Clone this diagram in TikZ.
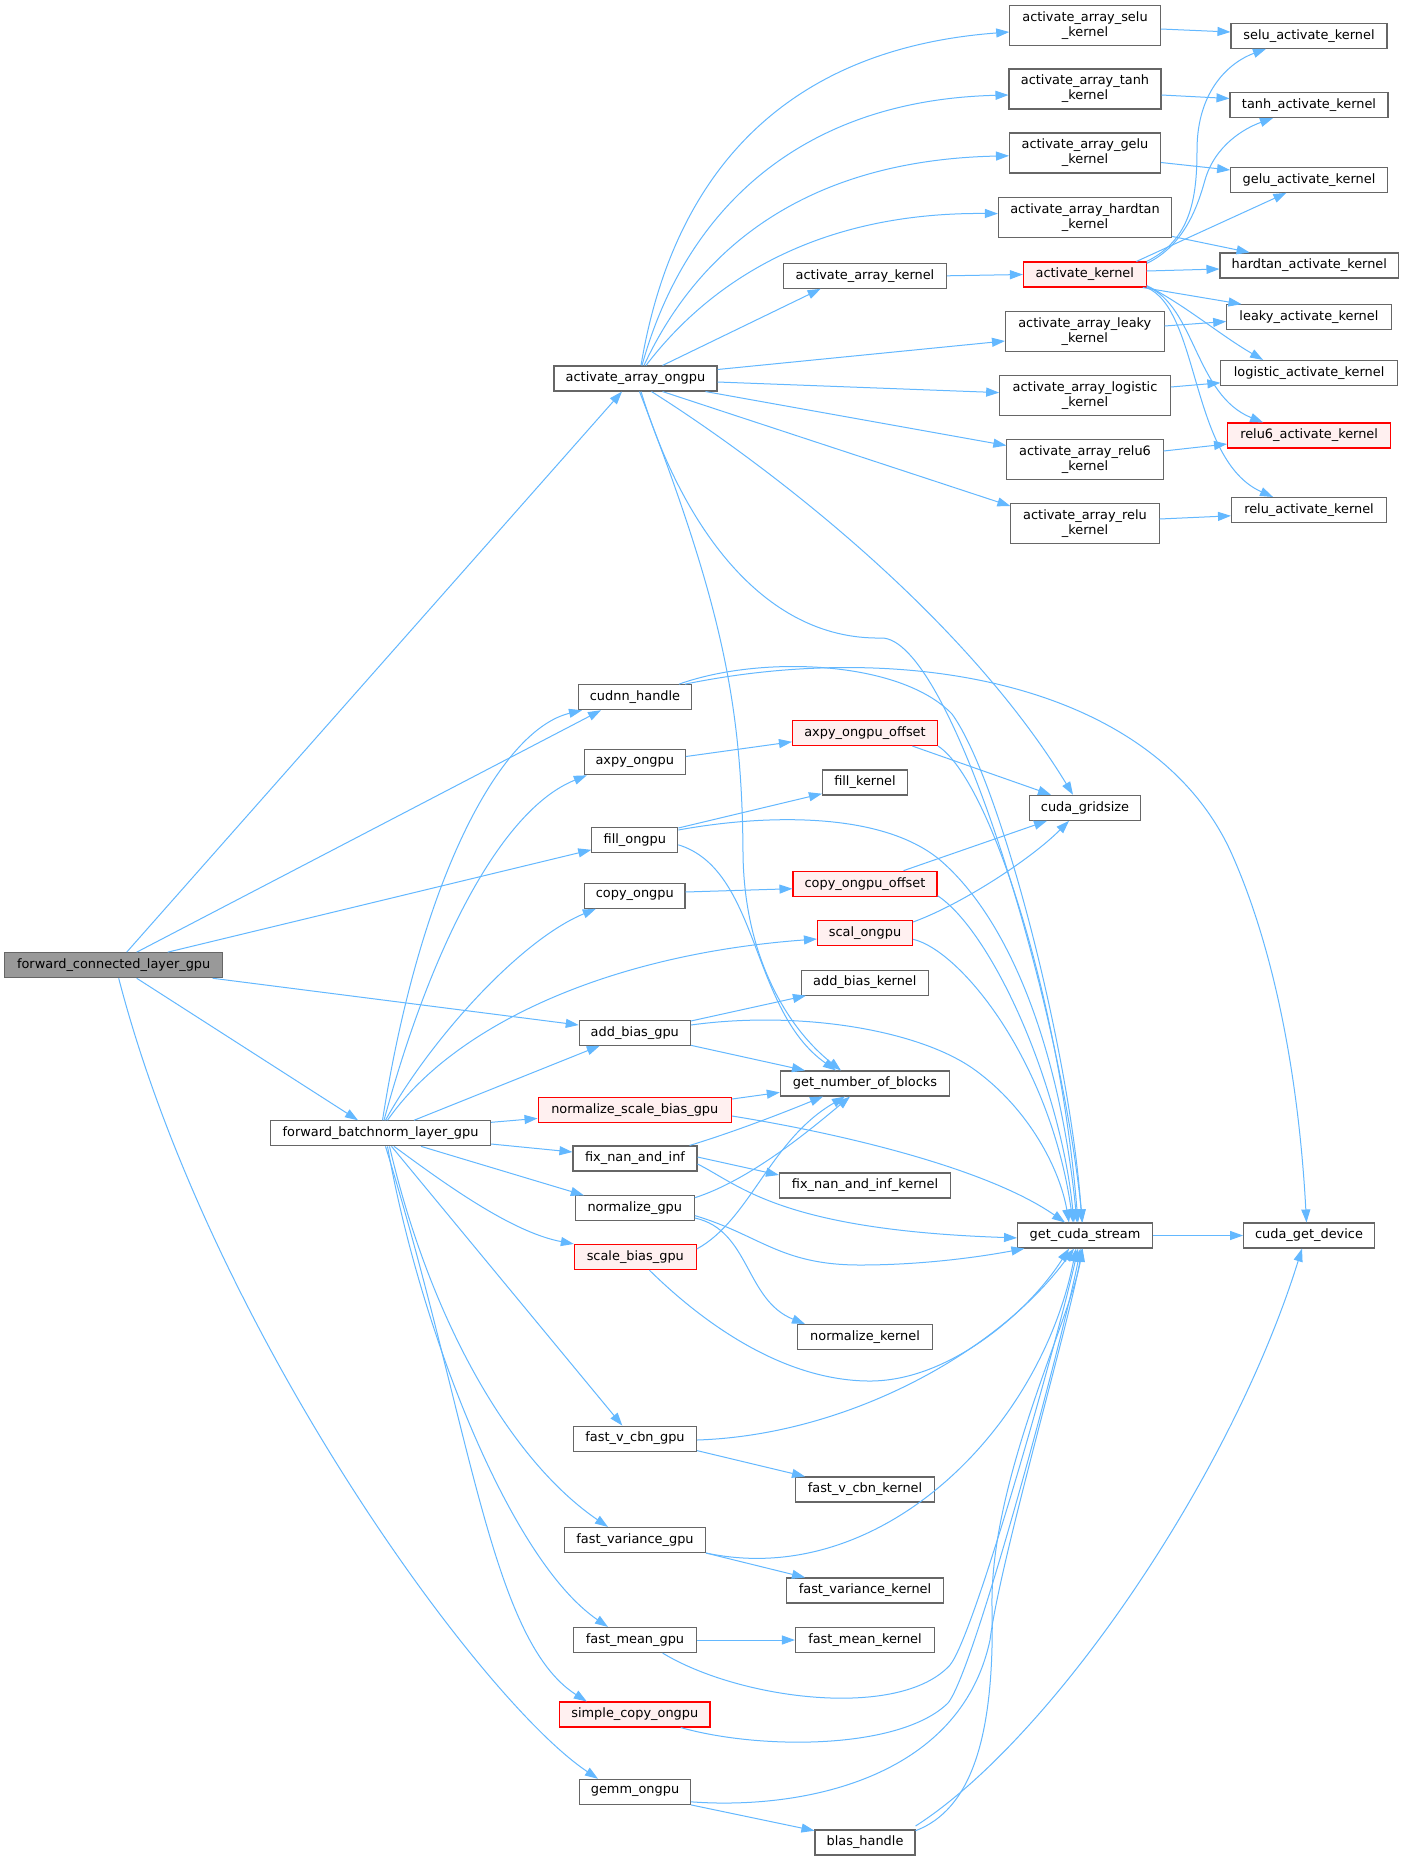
\documentclass[tikz,border=0pt]{standalone}
\usepackage{fontspec}
\setmainfont{DejaVu Sans}
\usetikzlibrary{arrows.meta}
\definecolor{edgec}{HTML}{63B8FF}
\definecolor{nodeb}{HTML}{666666}
\definecolor{rootf}{HTML}{999999}
\definecolor{redf}{HTML}{FFF0F0}
\begin{document}
\begin{tikzpicture}[x=1pt,y=-1pt,
  font=\fontsize{12.9}{14.8}\selectfont,
  box/.style={draw=nodeb, line width=1.1pt, fill=white, inner sep=0pt, minimum height=25pt, align=center},
  dbox/.style={box, minimum height=40pt},
  rbox/.style={box, draw=red, fill=redf},
  gbox/.style={box, fill=rootf},
  edg/.style={draw=edgec, line width=1pt, -{Triangle[length=13pt,width=9pt]}}]
\useasboundingbox[fill=white] (0,0) rectangle (1404,1861);

% ---- nodes ----
\node[gbox, minimum width=217.6pt] (fc) at (113.7,965.2) {forward\_connected\_layer\_gpu};
\node[box, minimum width=220.3pt] (fb) at (380.5,1133.3) {forward\_batchnorm\_layer\_gpu};

\node[box, minimum width=163pt] (aao) at (635.5,378.5) {activate\_array\_ongpu};
\node[box, minimum width=112.3pt] (cudnn) at (635,697.2) {cudnn\_handle};
\node[box, minimum width=101.2pt] (axpy) at (634.8,762.3) {axpy\_ongpu};
\node[box, minimum width=86pt] (fill) at (634.8,839.8) {fill\_ongpu};
\node[box, minimum width=100.3pt] (copy) at (634.8,895.8) {copy\_ongpu};
\node[box, minimum width=111pt] (addb) at (634.8,1032.7) {add\_bias\_gpu};
\node[rbox, minimum width=193.4pt] (nsb) at (634.8,1109.8) {normalize\_scale\_bias\_gpu};
\node[box, minimum width=124pt] (fixn) at (635,1158.5) {fix\_nan\_and\_inf};
\node[box, minimum width=119pt] (normg) at (634.8,1208.3) {normalize\_gpu};
\node[rbox, minimum width=121.8pt] (sbg) at (635.3,1257) {scale\_bias\_gpu};
\node[box, minimum width=123pt] (fvc) at (635,1438.6) {fast\_v\_cbn\_gpu};
\node[box, minimum width=141pt] (fvar) at (635,1540) {fast\_variance\_gpu};
\node[box, minimum width=123pt] (fmean) at (635,1640) {fast\_mean\_gpu};
\node[rbox, minimum width=150.4pt] (scopy) at (634.8,1714.5) {simple\_copy\_ongpu};
\node[box, minimum width=110.6pt] (gemm) at (635,1791.8) {gemm\_ongpu};

\node[box, minimum width=163pt] (aak) at (865,275.8) {activate\_array\_kernel};
\node[rbox, minimum width=145pt] (axpyo) at (865,733) {axpy\_ongpu\_offset};
\node[box, minimum width=85pt] (fillk) at (865,782.5) {fill\_kernel};
\node[rbox, minimum width=144pt] (copyo) at (865,883.7) {copy\_ongpu\_offset};
\node[rbox, minimum width=95pt] (scal) at (865,933) {scal\_ongpu};
\node[box, minimum width=126.7pt] (addbk) at (864.8,982.6) {add\_bias\_kernel};
\node[box, minimum width=169.3pt] (gnb) at (865,1083.5) {get\_number\_of\_blocks};
\node[box, minimum width=171pt] (fixk) at (865,1185.5) {fix\_nan\_and\_inf\_kernel};
\node[box, minimum width=134.8pt] (normk) at (865,1337) {normalize\_kernel};
\node[box, minimum width=139pt] (fvck) at (865,1489.5) {fast\_v\_cbn\_kernel};
\node[box, minimum width=157pt] (fvark) at (865,1590.5) {fast\_variance\_kernel};
\node[box, minimum width=139pt] (fmeank) at (865,1640) {fast\_mean\_kernel};
\node[box, minimum width=100pt] (blas) at (865,1842.5) {blas\_handle};

\node[dbox, minimum width=150.5pt] (selk) at (1085,25.3) {activate\_array\_selu\\\_kernel};
\node[dbox, minimum width=152pt] (tank) at (1085,89) {activate\_array\_tanh\\\_kernel};
\node[dbox, minimum width=151pt] (gelk) at (1085,153) {activate\_array\_gelu\\\_kernel};
\node[dbox, minimum width=173pt] (hardk) at (1085,217.4) {activate\_array\_hardtan\\\_kernel};
\node[rbox, minimum width=122.7pt] (ak) at (1084.8,274.5) {activate\_kernel};
\node[dbox, minimum width=158.5pt] (leakk) at (1084.8,331.7) {activate\_array\_leaky\\\_kernel};
\node[dbox, minimum width=170.6pt] (logik) at (1085,395.8) {activate\_array\_logistic\\\_kernel};
\node[dbox, minimum width=156.2pt] (relu6k) at (1085,459.8) {activate\_array\_relu6\\\_kernel};
\node[dbox, minimum width=148.2pt] (reluk) at (1085,523.8) {activate\_array\_relu\\\_kernel};
\node[box, minimum width=110.6pt] (grid) at (1085,807.8) {cuda\_gridsize};
\node[box, minimum width=134.8pt] (gcs) at (1085,1235.5) {get\_cuda\_stream};

\node[box, minimum width=156pt] (selu) at (1309,35.8) {selu\_activate\_kernel};
\node[box, minimum width=158pt] (tanh) at (1309,105) {tanh\_activate\_kernel};
\node[box, minimum width=156.7pt] (gelu) at (1309,179.8) {gelu\_activate\_kernel};
\node[box, minimum width=178.6pt] (hard) at (1309.3,265.5) {hardtan\_activate\_kernel};
\node[box, minimum width=164.3pt] (leaky) at (1308.9,317.2) {leaky\_activate\_kernel};
\node[box, minimum width=176.4pt] (logi) at (1309.1,373) {logistic\_activate\_kernel};
\node[rbox, minimum width=163pt] (relu6) at (1309.1,435.5) {relu6\_activate\_kernel};
\node[box, minimum width=155pt] (relu) at (1309,510) {relu\_activate\_kernel};
\node[box, minimum width=130.7pt] (cgd) at (1309,1235.5) {cuda\_get\_device};

% ---- edges from forward_connected_layer_gpu ----
\draw[edg] ([xshift=13pt]fc.north) -- ([xshift=-13.5pt]aao.south);
\draw[edg] ([xshift=23pt]fc.north) -- ([xshift=-34pt]cudnn.south);
\draw[edg] ([xshift=54pt]fc.north) -- ([yshift=-10pt]fill.west);
\draw[edg] ([xshift=99pt]fc.south) -- ([yshift=7.7pt]addb.west);
\draw[edg] ([xshift=23pt]fc.south) -- ([xshift=-22.5pt]fb.north);
\draw[edg] ([xshift=5pt]fc.south) .. controls (210,1330) and (480,1700) .. ([xshift=-37pt]gemm.north);

% ---- edges from activate_array_ongpu ----
\draw[edg] ([xshift=5.5pt]aao.north) .. controls (670,190) and (770,50) .. ([yshift=-6.7pt]selk.west);
\draw[edg] ([xshift=6.5pt]aao.north) .. controls (685,210) and (800,100) .. ([yshift=-6pt]tank.west);
\draw[edg] ([xshift=8.5pt]aao.north) .. controls (700,245) and (810,160) .. ([yshift=-2.8pt]gelk.west);
\draw[edg] ([xshift=10.5pt]aao.north) .. controls (715,275) and (825,212) .. ([yshift=3.8pt]hardk.west);
\draw[edg] ([xshift=27pt]aao.north) -- ([xshift=-44.4pt]aak.south);
\draw[edg] ([yshift=9pt]aao.east) -- ([yshift=-9.3pt]leakk.west);
\draw[edg] ([yshift=-3.5pt]aao.east) -- ([yshift=3.2pt]logik.west);
\draw[edg] ([xshift=70pt]aao.south) -- ([yshift=14.3pt]relu6k.west);
\draw[edg] ([xshift=27pt]aao.south) -- ([yshift=17.8pt]reluk.west);
\draw[edg] ([xshift=16pt]aao.south) .. controls (760,460) and (960,610) .. ([xshift=-12pt]grid.north);
\draw[edg] ([xshift=5.5pt]aao.south) .. controls (680,520) and (760,640) .. (881,638) .. controls (950,636) and (1060,1000) .. ([xshift=-2.5pt]gcs.north);
\draw[edg] ([xshift=4pt]aao.south) .. controls (720,600) and (742,700) .. (743,853) .. controls (744,960) and (790,1030) .. ([xshift=-24pt]gnb.north);

% ---- kernel wrappers ----
\draw[edg] ([yshift=-3.7pt]selk.east) -- ([yshift=3.8pt]selu.west);
\draw[edg] ([yshift=-6pt]tank.east) -- ([yshift=6.5pt]tanh.west);
\draw[edg] ([yshift=-9.5pt]gelk.east) -- ([yshift=9.8pt]gelu.west);
\draw[edg] ([yshift=-19pt]hardk.east) -- ([xshift=-59.7pt]hard.north);
\draw[edg] ([yshift=5.7pt]leakk.east) -- ([yshift=-4.3pt]leaky.west);
\draw[edg] ([yshift=8.8pt]logik.east) -- ([yshift=-9.8pt]logi.west);
\draw[edg] ([yshift=8.8pt]relu6k.east) -- ([yshift=-8.5pt]relu6.west);
\draw[edg] ([yshift=4.8pt]reluk.east) -- ([yshift=-5.8pt]relu.west);
\draw[edg] (aak.east) -- (ak.west);

% ---- activate_kernel ----
\draw[edg] (ak.north east) .. controls (1190,240) and (1197,200) .. (1197,150) .. controls (1197,90) and (1230,62) .. ([xshift=-43pt]selu.south);
\draw[edg] ([yshift=-2pt]ak.north east) .. controls (1185,245) and (1198,205) .. (1205,180) .. controls (1215,145) and (1245,128) .. ([xshift=-36pt]tanh.south);
\draw[edg] ([xshift=51.6pt]ak.north) -- ([xshift=-22.6pt]gelu.south);
\draw[edg] ([yshift=3.5pt]ak.east) -- ([yshift=-3.5pt]hard.west);
\draw[edg] ([xshift=58pt]ak.south) -- ([xshift=-67.4pt]leaky.north);
\draw[edg] ([yshift=2pt]ak.south east) .. controls (1185,305) and (1220,335) .. ([xshift=-46pt]logi.north);
\draw[edg] ([yshift=1pt]ak.south east) .. controls (1195,305) and (1195,395) .. ([xshift=-46pt]relu6.north);
\draw[edg] (ak.south east) .. controls (1200,310) and (1190,460) .. ([xshift=-36pt]relu.north);

% ---- forward_batchnorm_layer_gpu ----
\draw[edg] ([xshift=2pt]fb.north) .. controls (420,880) and (500,730) .. ([xshift=-53pt]cudnn.south);
\draw[edg] ([xshift=3.5pt]fb.north) .. controls (430,950) and (500,810) .. ([xshift=-48pt]axpy.south);
\draw[edg] ([xshift=5pt]fb.north) .. controls (430,1040) and (520,940) .. ([xshift=-39pt]copy.south);
\draw[edg] ([xshift=7pt]fb.north) .. controls (450,1030) and (600,955) .. ([yshift=-6pt]scal.west);
\draw[edg] ([xshift=33.5pt]fb.north) -- ([xshift=-35pt]addb.south);
\draw[edg] ([yshift=11pt]fb.east) -- ([yshift=-8.6pt]nsb.west);
\draw[edg] ([yshift=-10.7pt]fb.east) -- ([yshift=6.5pt]fixn.west);
\draw[edg] ([xshift=40.5pt]fb.south) -- ([xshift=-51pt]normg.north);
\draw[edg] ([xshift=13.5pt]fb.south) .. controls (440,1180) and (510,1232) .. (sbg.north west);
\draw[edg] ([xshift=11pt]fb.south) -- ([xshift=-12.7pt]fvc.north);
\draw[edg] ([xshift=9pt]fb.south) .. controls (430,1320) and (510,1460) .. ([xshift=-27pt]fvar.north);
\draw[edg] ([xshift=7pt]fb.south) .. controls (420,1330) and (510,1560) .. ([xshift=-27pt]fmean.north);
\draw[edg] ([xshift=5pt]fb.south) .. controls (470,1420) and (490,1640) .. ([xshift=-48pt]scopy.north);

% ---- middle column ----
\draw[edg] ([xshift=44pt]cudnn.north) .. controls (760,655) and (900,660) .. (952,714) .. controls (1000,780) and (1070,1050) .. ([xshift=-3pt]gcs.north);
\draw[edg] ([xshift=50pt]cudnn.north) .. controls (900,640) and (1150,680) .. (1230,850) .. controls (1280,960) and (1300,1100) .. ([xshift=-2.5pt]cgd.north);
\draw[edg] ([yshift=5.8pt]axpy.east) -- ([yshift=-8.8pt]axpyo.west);
\draw[edg] ([xshift=47.4pt]axpyo.south) -- ([xshift=-34pt]grid.north);
\draw[edg] (axpyo.south east) .. controls (990,780) and (1060,1000) .. ([xshift=-7pt]gcs.north);
\draw[edg] ([yshift=11.8pt]fill.east) -- ([yshift=-11.2pt]fillk.west);
\draw[edg] ([yshift=9.8pt]fill.east) .. controls (760,815) and (880,810) .. (940,860) .. controls (1010,920) and (1060,1050) .. ([xshift=-8pt]gcs.north);
\draw[edg] ([yshift=-5pt]fill.east) .. controls (760,870) and (750,1010) .. ([xshift=-29pt]gnb.north);
\draw[edg] ([yshift=3.8pt]copy.east) -- ([yshift=-5pt]copyo.west);
\draw[edg] ([xshift=38.5pt]copyo.north) -- ([xshift=-38pt]grid.south);
\draw[edg] ([yshift=-12pt]copyo.east) .. controls (990,930) and (1060,1080) .. ([xshift=-11pt]gcs.north);
\draw[edg] ([yshift=11pt]scal.east) .. controls (960,905) and (1030,860) .. ([xshift=-16pt]grid.south);
\draw[edg] ([yshift=-6.3pt]scal.east) .. controls (960,950) and (1050,1060) .. ([xshift=-12pt]gcs.north);
\draw[edg] ([yshift=11.7pt]addb.east) -- ([xshift=5pt]addbk.south west);
\draw[edg] ([yshift=7.7pt]addb.east) .. controls (800,1010) and (920,1030) .. (975,1070) .. controls (1030,1110) and (1060,1170) .. ([xshift=-16pt]gcs.north);
\draw[edg] ([yshift=-12.6pt]addb.east) -- ([xshift=-60pt]gnb.north);
\draw[edg] ([yshift=10.8pt]nsb.east) -- ([yshift=-8.9pt]gnb.west);
\draw[edg] ([yshift=-6.2pt]nsb.east) .. controls (850,1135) and (990,1170) .. ([xshift=-20pt]gcs.north);
\draw[edg] ([xshift=54.6pt]fixn.north) .. controls (740,1130) and (790,1110) .. ([xshift=-42pt]gnb.south);
\draw[edg] ([yshift=1.5pt]fixn.east) -- ([yshift=10.5pt]fixk.west);
\draw[edg] ([yshift=-5.5pt]fixn.east) .. controls (740,1185) and (780,1230) .. ([yshift=-2.4pt]gcs.west);
\draw[edg] ([yshift=10.6pt]normg.east) .. controls (750,1180) and (810,1130) .. ([xshift=-15pt]gnb.south);
\draw[edg] ([yshift=-7.3pt]normg.east) .. controls (760,1235) and (780,1265) .. (860,1265) .. controls (930,1265) and (990,1255) .. ([xshift=-60.6pt]gcs.south);
\draw[edg] ([yshift=-9.7pt]normg.east) .. controls (750,1230) and (745,1300) .. ([xshift=-60pt]normk.north);
\draw[edg] ([yshift=8pt]sbg.east) .. controls (750,1220) and (770,1140) .. ([xshift=-20pt]gnb.south);
\draw[edg] ([xshift=14pt]sbg.south) .. controls (700,1320) and (780,1380) .. (868,1381) .. controls (950,1382) and (1030,1310) .. ([xshift=-16pt]gcs.south);
\draw[edg] ([yshift=-1.4pt]fvc.east) .. controls (850,1435) and (1000,1350) .. ([xshift=-11pt]gcs.south);
\draw[edg] ([yshift=-12pt]fvc.east) -- ([xshift=-60pt]fvck.north);
\draw[edg] ([yshift=-13pt]fvar.east) .. controls (880,1590) and (1040,1430) .. ([xshift=-9pt]gcs.south);
\draw[edg] (fvar.south east) -- ([xshift=-60pt]fvark.north);
\draw[edg] (fmean.east) -- (fmeank.west);
\draw[edg] ([xshift=27.6pt]fmean.south) .. controls (740,1700) and (900,1720) .. (950,1665) .. controls (975,1635) and (1060,1330) .. ([xshift=-7pt]gcs.south);
\draw[edg] ([xshift=46pt]scopy.south) .. controls (760,1750) and (900,1750) .. (948,1703) .. controls (975,1670) and (1065,1330) .. ([xshift=-4.6pt]gcs.south);
\draw[edg] ([yshift=-10pt]gemm.east) .. controls (800,1810) and (960,1780) .. (990,1640) .. controls (1000,1560) and (1070,1320) .. ([xshift=-3pt]gcs.south);
\draw[edg] (gemm.south east) -- ([yshift=11.8pt]blas.west);
\draw[edg] ([yshift=11.8pt]blas.east) .. controls (970,1810) and (995,1740) .. (992,1607) .. controls (990,1480) and (1070,1320) .. ([xshift=-2.4pt]gcs.south);
\draw[edg] ([yshift=16.5pt]blas.east) .. controls (1050,1740) and (1230,1480) .. ([xshift=-7pt]cgd.south);
\draw[edg] (gcs.east) -- (cgd.west);
\end{tikzpicture}
\end{document}
